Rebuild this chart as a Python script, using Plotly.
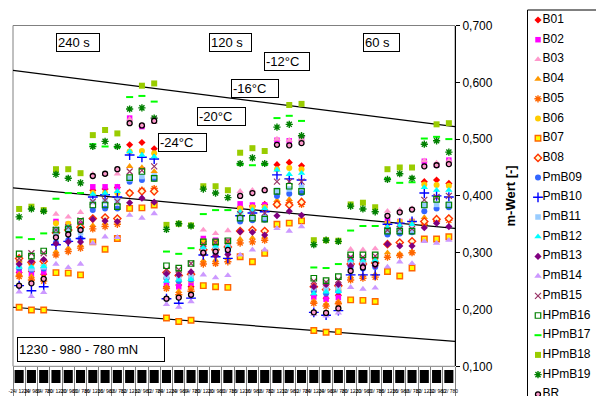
import plotly.graph_objects as go

# ---------------- data ----------------
times = ["240", "120", "60"]
temps = ["-24", "-20", "-16", "-12"]
loads = ["1230", "980", "780"]
categories = [f"{tp}/ {ld}" for t in times for tp in temps for ld in loads]
x_pos = list(range(len(categories)))

B01 = [0.265,0.267,0.262, 0.340,0.345,0.345, 0.410,0.412,0.415, 0.490,0.494,0.483,
       0.240,0.243,0.240, 0.315,0.315,0.312, 0.380,0.382,0.385, 0.455,0.459,0.453,
       0.225,0.220,0.225, 0.285,0.283,0.285, 0.350,0.352,0.354, 0.425,0.428,0.422]
B02 = [0.268,0.262,0.266, 0.355,0.350,0.350, 0.416,0.416,0.416, 0.537,0.522,0.535,
       0.245,0.240,0.246, 0.325,0.322,0.320, 0.386,0.384,0.384, 0.498,0.497,0.502,
       0.222,0.218,0.221, 0.290,0.285,0.288, 0.357,0.355,0.355, 0.461,0.454,0.463]
B03 = [0.285,0.282,0.288, 0.368,0.363,0.371, 0.438,0.438,0.439, 0.535,0.525,0.530,
       0.265,0.262,0.268, 0.340,0.334,0.339, 0.408,0.410,0.412, 0.500,0.498,0.500,
       0.245,0.243,0.247, 0.306,0.305,0.307, 0.373,0.375,0.378, 0.462,0.458,0.462]
B04 = [0.262,0.258,0.256, 0.302,0.308,0.313, 0.348,0.352,0.356, 0.452,0.450,0.443,
       0.240,0.232,0.238, 0.286,0.287,0.290, 0.324,0.326,0.328, 0.392,0.394,0.392,
       0.215,0.210,0.214, 0.258,0.260,0.262, 0.300,0.298,0.302, 0.362,0.360,0.362]
B05 = [0.258,0.252,0.250, 0.296,0.302,0.308, 0.342,0.346,0.350, 0.405,0.410,0.413,
       0.237,0.226,0.232, 0.280,0.281,0.284, 0.317,0.319,0.322, 0.385,0.388,0.385,
       0.211,0.206,0.210, 0.252,0.255,0.257, 0.292,0.295,0.300, 0.350,0.355,0.357]
B06 = [0.285,0.280,0.278, 0.352,0.351,0.345, 0.405,0.405,0.405, 0.478,0.479,0.475,
       0.255,0.250,0.252, 0.320,0.318,0.318, 0.378,0.380,0.380, 0.447,0.449,0.447,
       0.232,0.230,0.235, 0.285,0.285,0.288, 0.352,0.355,0.355, 0.420,0.419,0.418]
B07 = [0.204,0.199,0.199, 0.265,0.264,0.261, 0.319,0.306,0.325, 0.378,0.379,0.384,
       0.185,0.179,0.181, 0.242,0.240,0.239, 0.293,0.284,0.299, 0.350,0.352,0.356,
       0.163,0.160,0.161, 0.217,0.216,0.214, 0.267,0.259,0.273, 0.324,0.324,0.328]
B08 = [0.290,0.283,0.285, 0.335,0.340,0.345, 0.360,0.362,0.360, 0.405,0.408,0.408,
       0.265,0.260,0.262, 0.305,0.305,0.310, 0.338,0.340,0.338, 0.385,0.384,0.389,
       0.240,0.235,0.242, 0.280,0.280,0.282, 0.315,0.318,0.320, 0.355,0.359,0.360]
PmB09 = [0.273,0.270,0.272, 0.318,0.322,0.325, 0.375,0.378,0.378, 0.425,0.428,0.430,
         0.255,0.250,0.253, 0.300,0.300,0.302, 0.355,0.357,0.358, 0.400,0.404,0.405,
         0.233,0.228,0.232, 0.275,0.272,0.275, 0.332,0.334,0.336, 0.373,0.378,0.380]
PmB10 = [0.242,0.233,0.240, 0.314,0.320,0.325, 0.398,0.402,0.398, 0.472,0.468,0.465,
         0.219,0.211,0.220, 0.296,0.293,0.290, 0.365,0.370,0.372, 0.437,0.430,0.428,
         0.195,0.190,0.198, 0.261,0.261,0.261, 0.350,0.352,0.355, 0.405,0.400,0.398]
PmB11 = [0.276,0.272,0.275, 0.330,0.342,0.335, 0.390,0.390,0.392, 0.430,0.434,0.435,
         0.258,0.255,0.257, 0.305,0.305,0.310, 0.362,0.362,0.362, 0.410,0.412,0.415,
         0.238,0.235,0.238, 0.282,0.280,0.282, 0.338,0.340,0.340, 0.383,0.385,0.386]
PmB12 = [0.275,0.275,0.276, 0.340,0.345,0.342, 0.403,0.405,0.408, 0.478,0.472,0.469,
         0.250,0.252,0.253, 0.310,0.312,0.310, 0.372,0.375,0.378, 0.446,0.438,0.440,
         0.228,0.231,0.232, 0.287,0.287,0.287, 0.345,0.348,0.350, 0.415,0.410,0.410]
PmB13 = [0.280,0.285,0.288, 0.316,0.319,0.319, 0.359,0.356,0.355, 0.388,0.396,0.389,
         0.263,0.261,0.266, 0.298,0.295,0.297, 0.337,0.336,0.331, 0.365,0.373,0.366,
         0.240,0.244,0.244, 0.277,0.277,0.277, 0.315,0.312,0.312, 0.344,0.352,0.346]
PmB14 = [0.231,0.223,0.230, 0.280,0.274,0.280, 0.317,0.328,0.327, 0.366,0.361,0.369,
         0.209,0.204,0.214, 0.261,0.256,0.260, 0.296,0.305,0.305, 0.343,0.338,0.346,
         0.192,0.189,0.194, 0.239,0.236,0.238, 0.275,0.284,0.281, 0.320,0.317,0.322]
PmB15 = [0.290,0.299,0.299, 0.340,0.345,0.357, 0.390,0.392,0.390, 0.443,0.445,0.452,
         0.270,0.270,0.281, 0.315,0.318,0.320, 0.368,0.370,0.370, 0.425,0.425,0.425,
         0.250,0.248,0.252, 0.292,0.292,0.294, 0.340,0.342,0.342, 0.393,0.398,0.400]
HPmB16 = [0.298,0.294,0.303, 0.340,0.342,0.355, 0.384,0.384,0.381, 0.432,0.443,0.431,
          0.277,0.273,0.281, 0.319,0.319,0.321, 0.361,0.361,0.359, 0.408,0.417,0.408,
          0.255,0.251,0.258, 0.296,0.296,0.296, 0.338,0.338,0.338, 0.384,0.394,0.384]
HPmB17 = [0.327,0.324,0.334, 0.395,0.405,0.405, 0.491,0.487,0.486, 0.574,0.576,0.566,
          0.302,0.298,0.308, 0.368,0.375,0.375, 0.455,0.454,0.455, 0.537,0.541,0.532,
          0.274,0.273,0.280, 0.339,0.347,0.347, 0.430,0.423,0.424, 0.501,0.504,0.500]
HPmB18 = [0.377,0.381,0.375, 0.447,0.447,0.440, 0.507,0.516,0.510, None,0.594,0.598,
          0.349,0.351,0.348, 0.417,0.417,0.410, 0.476,0.484,0.479, None,0.560,0.562,
          0.322,0.322,0.321, 0.385,0.388,0.380, 0.447,0.450,0.450, None,0.526,0.528]
HPmB19 = [0.363,0.377,0.373, 0.438,0.431,0.423, 0.487,0.496,0.487, 0.553,0.555,0.537,
          0.341,0.351,0.347, 0.412,0.405,0.397, 0.457,0.467,0.457, 0.521,0.526,0.506,
          0.314,0.322,0.320, 0.382,0.377,0.372, 0.429,0.439,0.431, 0.491,0.497,0.477]
BR = [0.242,0.246,0.254, 0.327,0.332,0.340, 0.435,0.439,0.447, 0.528,0.524,0.532,
      0.219,0.221,0.226, 0.300,0.302,0.305, 0.400,0.405,0.410, 0.490,0.489,0.493,
      0.195,0.194,0.202, 0.268,0.274,0.280, 0.365,0.371,0.376, 0.452,0.454,0.456]

series_names = ["B01", "B02", "B03", "B04", "B05", "B06", "B07", "B08",
                "PmB09", "PmB10", "PmB11", "PmB12", "PmB13", "PmB14", "PmB15",
                "HPmB16", "HPmB17", "HPmB18", "HPmB19", "BR"]
series_values = [B01, B02, B03, B04, B05, B06, B07, B08,
                 PmB09, PmB10, PmB11, PmB12, PmB13, PmB14, PmB15,
                 HPmB16, HPmB17, HPmB18, HPmB19, BR]

# trend lines (value at left edge, value at right edge)
trend_x = [-0.5, 35.5]
trend_lines = [[0.621, 0.522], [0.414, 0.343], [0.204, 0.144]]

box_texts = ["240 s", "120 s", "60 s", "-12°C", "-16°C", "-20°C", "-24°C",
             "1230 - 980 - 780 mN"]

# ---------------- styles ----------------
styles = {
    "B01":    dict(symbol="diamond", size=5.5, color="#FF0000", line=dict(width=0)),
    "B02":    dict(symbol="square", size=5.5, color="#FF00FF", line=dict(width=0)),
    "B03":    dict(symbol="triangle-up", size=6.5, color="#FF99CC", line=dict(width=0)),
    "B04":    dict(symbol="triangle-up", size=6.5, color="#FF9900", line=dict(width=0)),
    "B05":    dict(symbol="asterisk-open", size=6, color="#FF6600", line=dict(width=1.4, color="#FF6600")),
    "B06":    dict(symbol="circle", size=6, color="#FFCC00", line=dict(width=0)),
    "B07":    dict(symbol="square", size=5.5, color="#FFFF00", line=dict(width=1.4, color="#FF6600")),
    "B08":    dict(symbol="diamond", size=5.5, color="#FFFFCC", line=dict(width=1.4, color="#FF3300")),
    "PmB09":  dict(symbol="circle", size=6, color="#3366FF", line=dict(width=0)),
    "PmB10":  dict(symbol="cross-thin-open", size=7, color="#0000FF", line=dict(width=1.4, color="#0000FF")),
    "PmB11":  dict(symbol="square", size=5.5, color="#99CCFF", line=dict(width=0)),
    "PmB12":  dict(symbol="triangle-up", size=6.5, color="#00FFFF", line=dict(width=0)),
    "PmB13":  dict(symbol="diamond", size=5.5, color="#800080", line=dict(width=0)),
    "PmB14":  dict(symbol="triangle-up", size=6.5, color="#CC99FF", line=dict(width=0)),
    "PmB15":  dict(symbol="x-thin-open", size=6, color="#993366", line=dict(width=1.2, color="#993366")),
    "HPmB16": dict(symbol="square-open", size=5.5, color="#008000", line=dict(width=1.2, color="#008000")),
    "HPmB17": dict(symbol="line-ew-open", size=5, color="#00FF00", line=dict(width=2, color="#00FF00")),
    "HPmB18": dict(symbol="square", size=6, color="#99CC00", line=dict(width=0)),
    "HPmB19": dict(symbol="asterisk-open", size=6, color="#008000", line=dict(width=1.4, color="#008000")),
    "BR":     dict(symbol="circle", size=5, color="#FF99CC", line=dict(width=1.3, color="#000000")),
}

W, H = 596, 396
FONT = "Liberation Sans, Arial, sans-serif"


def px_x(p):
    return p / W


def px_y(p):
    return 1 - p / H


fig = go.Figure()

# diagonal reference lines
for vals in trend_lines:
    fig.add_trace(go.Scatter(x=trend_x, y=vals, mode="lines", xaxis="x", yaxis="y",
                             line=dict(color="black", width=1.2), showlegend=False,
                             hoverinfo="skip"))

# data series
for name, vals in zip(series_names, series_values):
    fig.add_trace(go.Scatter(x=x_pos, y=vals, mode="markers", name=name,
                             marker=styles[name], showlegend=False, cliponaxis=False))

# hand-made legend (markers + labels) on its own hidden axes
LEG_TEXT_X = 4.5 / 69
for i, name in enumerate(series_names):
    fig.add_trace(go.Scatter(x=[0], y=[i], mode="markers", marker=styles[name],
                             xaxis="x4", yaxis="y4", showlegend=False,
                             cliponaxis=False, hoverinfo="skip"))
    fig.add_trace(go.Scatter(x=[LEG_TEXT_X], y=[i], mode="text", text=[name],
                             textposition="middle right",
                             textfont=dict(family=FONT, size=12, color="black"),
                             xaxis="x4", yaxis="y4", showlegend=False,
                             cliponaxis=False, hoverinfo="skip"))

# invisible helper on the small category-label axis so it is drawn
fig.add_trace(go.Scatter(x=[x_pos[0]], y=[None], xaxis="x2", yaxis="y",
                         showlegend=False, hoverinfo="skip"))

x_dom = [px_x(13), px_x(455)]
y_dom = [px_y(366.3), px_y(25.5)]
xr = [-0.5, 35.5]

annotations = []
box_geom = [  # left, top, width, height (px)
    (56, 33, 46, 19), (209, 33, 45, 19), (363, 33, 39, 19),
    (264, 52, 48, 19), (231, 79, 50, 19), (197, 107, 51, 19), (158, 133, 51, 19),
    (17, 337, 150, 25),
]
for txt, (l, t, w, h) in zip(box_texts, box_geom):
    annotations.append(dict(
        text=txt, xref="paper", yref="paper", x=px_x(l), y=px_y(t),
        xanchor="left", yanchor="top", showarrow=False, align="left",
        width=w - 6, height=h - 4, borderpad=1, borderwidth=1, bordercolor="black",
        bgcolor="white", font=dict(family=FONT, size=13, color="black")))

shapes = [
    dict(type="rect", xref="x domain", yref="y domain", x0=0, x1=1, y0=0, y1=1,
         line=dict(color="#808080", width=1), layer="below"),
    dict(type="rect", xref="paper", yref="paper", x0=px_x(527.5), x1=1.05,
         y0=-0.05, y1=px_y(10), line=dict(color="black", width=1), fillcolor="rgba(0,0,0,0)"),
]
# black category-label blocks under each category (positioned by the x axis)
for xv in x_pos:
    shapes.append(dict(type="rect", xref="x", yref="paper", x0=xv - 0.37, x1=xv + 0.37,
                       y0=px_y(383), y1=px_y(370), fillcolor="black",
                       line=dict(width=0)))

fig.update_layout(
    width=W, height=H,
    margin=dict(l=0, r=0, t=0, b=0, autoexpand=False),
    paper_bgcolor="white", plot_bgcolor="white",
    separators=",.",
    showlegend=False,
    font=dict(family=FONT, size=12, color="black"),
    annotations=annotations,
    shapes=shapes,
    xaxis=dict(domain=x_dom, range=xr, showgrid=False, zeroline=False, showline=False,
               tickmode="array", tickvals=[v - 0.5 for v in x_pos] + [x_pos[-1] + 0.5],
               ticktext=[""] * (len(x_pos) + 1), ticks="outside", ticklen=31,
               tickcolor="#808080", tickwidth=1, automargin=False, anchor="y"),
    xaxis2=dict(domain=x_dom, range=xr, overlaying="x", anchor="y", showgrid=False,
                zeroline=False, showline=False, tickmode="array", tickvals=x_pos,
                ticktext=categories, ticks="", automargin=False, tickangle=0,
                tickfont=dict(family=FONT, size=5, color="black"),
                ticklabelstandoff=21),
    yaxis=dict(domain=y_dom, range=[0.1, 0.7], side="right", anchor="x",
               tickmode="linear", tick0=0.1, dtick=0.1, tickformat=".3f",
               showgrid=False, zeroline=False, showline=True, linecolor="black",
               linewidth=1, ticks="outside", ticklen=4, tickcolor="black",
               tickfont=dict(family=FONT, size=12, color="black"), automargin=False,
               title=dict(text="m-Wert [-]", standoff=14,
                          font=dict(family=FONT, size=13, color="black", weight="bold"))),
    xaxis4=dict(domain=[px_x(527), 1], range=[-11 / 69, 58 / 69], visible=False,
                anchor="y4", fixedrange=True),
    yaxis4=dict(domain=[0, 1], range=[(H - 20) / 19.7, -20 / 19.7], visible=False,
                anchor="x4", fixedrange=True),
)

fig.write_html("out.html", config={"displayModeBar": False},
               post_script="document.body.style.margin='0px';"
                           "document.body.style.overflow='hidden';")
